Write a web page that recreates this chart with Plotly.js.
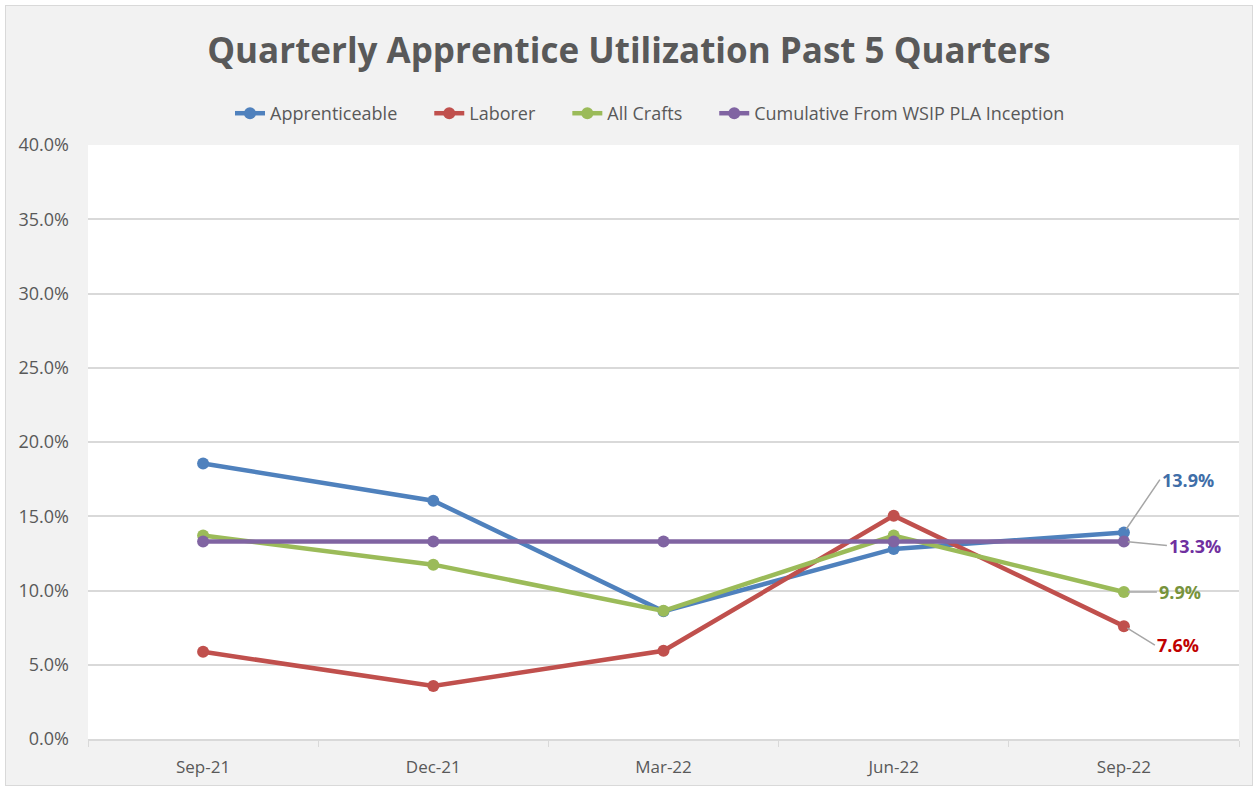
<!DOCTYPE html>
<html>
<head>
<meta charset="utf-8">
<script src="https://cdn.plot.ly/plotly-3.0.1.min.js"></script>
<style>
  html, body { margin: 0; padding: 0; background: #ffffff; }
  #chart { position: absolute; left: 5px; top: 5px; width: 1246px; height: 779px; border: 1px solid #d9d9d9; }
</style>
</head>
<body>
<div id="chart"></div>
<script>
const categories = ['Sep-21', 'Dec-21', 'Mar-22', 'Jun-22', 'Sep-22'];
const apprenticeable = [18.55, 16.05, 8.6, 12.8, 13.9];
const laborer = [5.87, 3.57, 5.94, 15.04, 7.6];
const allCrafts = [13.7, 11.74, 8.63, 13.7, 9.9];
const cumulative = [13.3, 13.3, 13.3, 13.3, 13.3];
const seriesNames = ['Apprenticeable', 'Laborer', 'All Crafts', 'Cumulative From WSIP PLA Inception'];
const seriesColors = ['#4f81bd', '#c0504d', '#9bbb59', '#8064a2'];
const labelColors = ['#3f6ea8', '#c00000', '#77933c', '#7030a0'];
const yTicks = [0, 5, 10, 15, 20, 25, 30, 35, 40];

const FONT = '"Open Sans", sans-serif';
const seriesData = [apprenticeable, laborer, allCrafts, cumulative];

const traces = seriesData.map((vals, i) => ({
  type: 'scatter',
  mode: 'lines+markers',
  name: seriesNames[i] + '\u2003\u2002',
  x: categories,
  y: vals,
  line: { color: seriesColors[i], width: 4.5 },
  marker: { color: seriesColors[i], size: 12 },
  cliponaxis: false
}));

const last = categories.length - 1;
const annOffsets = [
  { ax: 36, ay: -53 },  // apprenticeable
  { ax: 31, ay: 19 },   // laborer
  { ax: 33, ay: 0 },    // all crafts
  { ax: 43, ay: 4 }     // cumulative
];
const annotations = seriesData.map((vals, i) => ({
  x: categories[last],
  y: vals[last],
  xref: 'x', yref: 'y',
  text: '<b>' + vals[last].toFixed(1) + '%</b>',
  showarrow: true,
  arrowhead: 0,
  arrowwidth: 1.5,
  arrowcolor: '#a6a6a6',
  standoff: 4,
  ax: annOffsets[i].ax,
  ay: annOffsets[i].ay,
  xanchor: 'left',
  font: { family: FONT, size: 18, color: labelColors[i] }
}));

const layout = {
  width: 1246,
  height: 779,
  paper_bgcolor: '#f2f2f2',
  plot_bgcolor: '#ffffff',
  margin: { l: 82, r: 13, t: 139, b: 46 },
  title: {
    text: '<b>Quarterly Apprentice Utilization Past 5 Quarters</b>',
    font: { family: FONT, size: 35, color: '#595959' },
    x: 0.5, xanchor: 'center',
    y: 0.943, yanchor: 'middle'
  },
  showlegend: true,
  legend: {
    orientation: 'h',
    x: 0.5, xanchor: 'center',
    y: 1.053, yanchor: 'middle',
    font: { family: FONT, size: 18, color: '#595959' },
    bgcolor: 'rgba(0,0,0,0)',
    tracegroupgap: 0
  },
  xaxis: {
    type: 'category',
    range: [-0.5, 4.5],
    tickfont: { family: FONT, size: 17, color: '#595959' },
    showgrid: false,
    showline: true,
    linecolor: '#d9d9d9',
    linewidth: 2,
    ticks: 'outside',
    tickson: 'boundaries',
    ticklen: 6,
    tickcolor: '#d9d9d9',
    ticklabelstandoff: 12,
    zeroline: false
  },
  yaxis: {
    range: [0, 40],
    tickvals: yTicks,
    ticktext: yTicks.map(v => v.toFixed(1) + '%'),
    tickfont: { family: FONT, size: 18, color: '#595959' },
    showgrid: true,
    gridcolor: '#d9d9d9',
    gridwidth: 2,
    zeroline: false,
    showline: false,
    ticks: '',
    ticklabelstandoff: 18
  },
  annotations: annotations
};

Plotly.newPlot('chart', traces, layout, { displayModeBar: false, staticPlot: true });
</script>
</body>
</html>
